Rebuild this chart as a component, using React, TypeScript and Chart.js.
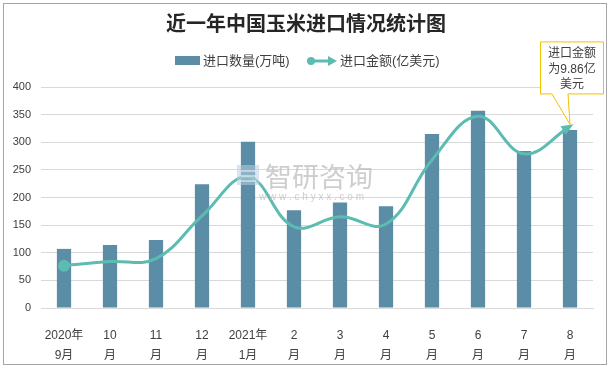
import React, { useEffect, useRef } from "react";
import { Chart, registerables } from "chart.js";
Chart.register(...registerables);

const categories: string[][] = [
  ["2020年", "9月"], ["10", "月"], ["11", "月"], ["12", "月"],
  ["2021年", "1月"], ["2", "月"], ["3", "月"], ["4", "月"],
  ["5", "月"], ["6", "月"], ["7", "月"], ["8", "月"],
];
const importVolume = [107, 114, 123, 224, 301, 177, 191, 184, 315, 357, 284, 322];
const importValue = [2.3, 2.52, 2.68, 5.0, 7.12, 4.41, 4.95, 4.56, 8.04, 10.41, 8.37, 9.86];
const volumeLabel = "进口数量(万吨)";
const valueLabel = "进口金额(亿美元)";
const titleText = "近一年中国玉米进口情况统计图";
const calloutLines = ["进口金额", "为9.86亿", "美元"];

const BAR = "#5b8da6";
const LINE = "#5cbcb1";
const CJK = '"Liberation Sans", "Noto Sans CJK SC", sans-serif';

const decor = {
  id: "decor",
  beforeDraw(chart: any) {
    const c = chart.ctx;
    c.save();
    c.fillStyle = "#ffffff";
    c.fillRect(0, 0, chart.width, chart.height);
    c.strokeStyle = "#a6a6a6";
    c.lineWidth = 1;
    c.strokeRect(3.5, 3.5, 603, 361);
    c.restore();
  },
  afterDraw(chart: any) {
    const c = chart.ctx;
    c.save();
    // watermark
    c.globalAlpha = 0.55;
    c.fillStyle = "#b9cfe3";
    c.fillRect(237, 165, 22, 20);
    c.fillStyle = "#e8eef5";
    c.fillRect(241, 170, 15, 2);
    c.fillRect(241, 175, 15, 2);
    c.fillRect(241, 180, 15, 2);
    c.globalAlpha = 0.75;
    c.fillStyle = "#bdbdbd";
    c.font = '27px "Noto Sans CJK SC"';
    c.textBaseline = "middle";
    c.textAlign = "left";
    c.fillText("智研咨询", 265, 177);
    c.font = '10px "Liberation Sans"';
    c.fillText("w w w . c h y x x . c o m", 259, 197);
    c.globalAlpha = 1;

    // title
    c.fillStyle = "#262626";
    c.font = 'bold 20px "Noto Sans CJK SC"';
    c.textAlign = "center";
    c.textBaseline = "middle";
    c.fillText(titleText, 306, 23);
    // legend
    c.font = '13px ' + CJK;
    c.textAlign = "left";
    c.fillStyle = BAR;
    c.fillRect(175, 56, 25, 9);
    c.fillStyle = "#404040";
    c.fillText(volumeLabel, 203, 61);
    c.strokeStyle = LINE;
    c.fillStyle = LINE;
    c.lineWidth = 3;
    c.beginPath();
    c.moveTo(311, 61);
    c.lineTo(330, 61);
    c.stroke();
    c.beginPath();
    c.arc(311, 61, 4, 0, Math.PI * 2);
    c.fill();
    c.beginPath();
    c.moveTo(337, 61);
    c.lineTo(328, 56);
    c.lineTo(328, 66);
    c.closePath();
    c.fill();
    c.fillStyle = "#404040";
    c.fillText(valueLabel, 340, 61);

    // arrow at line end
    const meta = chart.getDatasetMeta(1);
    const pts = meta.data;
    const last = pts[pts.length - 1];
    const px = last.x, py = last.y;
    const cx = last.cp1x ?? pts[pts.length - 2].x;
    const cy = last.cp1y ?? pts[pts.length - 2].y;
    const ang = Math.atan2(py - cy, px - cx);
    c.fillStyle = LINE;
    c.beginPath();
    c.moveTo(px + Math.cos(ang) * 4, py + Math.sin(ang) * 4);
    c.lineTo(px - Math.cos(ang) * 8 - Math.sin(ang) * 5, py - Math.sin(ang) * 8 + Math.cos(ang) * 5);
    c.lineTo(px - Math.cos(ang) * 8 + Math.sin(ang) * 5, py - Math.sin(ang) * 8 - Math.cos(ang) * 5);
    c.closePath();
    c.fill();

    // callout
    const left = px - 29.5, right = px + 33.5, top = py - 84.5, bottom = py - 32.5;
    c.beginPath();
    c.moveTo(left, top);
    c.lineTo(right, top);
    c.lineTo(right, bottom);
    c.lineTo(px - 2, bottom);
    c.lineTo(px, py - 2);
    c.lineTo(px - 18, bottom);
    c.lineTo(left, bottom);
    c.closePath();
    c.fillStyle = "#ffffff";
    c.fill();
    c.strokeStyle = "#f2c200";
    c.lineWidth = 1;
    c.stroke();
    c.fillStyle = "#404040";
    c.font = '12px ' + CJK;
    c.textAlign = "center";
    const mid = (left + right) / 2;
    calloutLines.forEach((t, i) => c.fillText(t, mid, top + 12 + i * 15.5));
    c.restore();
  },
};

export default function App() {
  const ref = useRef<HTMLCanvasElement | null>(null);
  useEffect(() => {
    if (!ref.current) return;
    const chart = new Chart(ref.current, {
      type: "bar",
      data: {
        labels: categories,
        datasets: [
          {
            type: "bar",
            label: volumeLabel,
            data: importVolume,
            backgroundColor: BAR,
            yAxisID: "y",
            order: 1,
            barPercentage: 0.62,
            categoryPercentage: 0.5,
          },
          {
            type: "line",
            label: valueLabel,
            data: importValue,
            borderColor: LINE,
            backgroundColor: LINE,
            borderWidth: 3,
            tension: 0.4,
            pointRadius: importValue.map((_, i) => (i === 0 ? 4.5 : 0)),
            pointHoverRadius: 0,
            yAxisID: "y1",
            order: 0,
          } as any,
        ],
      },
      options: {
        responsive: false,
        animation: false,
        layout: { padding: { top: 87, right: 18, bottom: 0, left: 0 } },
        plugins: {
          legend: { display: false },
          title: { display: false },
          tooltip: { enabled: false },
        },
        scales: {
          x: {
            grid: { display: false },
            border: { color: "#d9d9d9" },
            ticks: {
              color: "#404040",
              font: { size: 12, family: CJK, lineHeight: 1.65 },
              padding: 10,
              maxRotation: 0,
              autoSkip: false,
            },
            afterFit(s: any) { s.height = 60; },
          },
          y: {
            min: 0,
            max: 400,
            ticks: { stepSize: 50, color: "#404040", font: { size: 11, family: CJK }, padding: 10 },
            grid: { color: "#d9d9d9", drawTicks: false },
            border: { display: false },
            afterFit(s: any) { s.width = 41; },
          },
          y1: { min: 0, max: 12, display: false },
        },
      },
      plugins: [decor],
    });
    return () => chart.destroy();
  }, []);
  return (
    <div style={{ position: "absolute", left: 0, top: 0, width: 611, height: 368 }}>
      <canvas ref={ref} width={611} height={368} style={{ width: 611, height: 368 }} />
    </div>
  );
}
